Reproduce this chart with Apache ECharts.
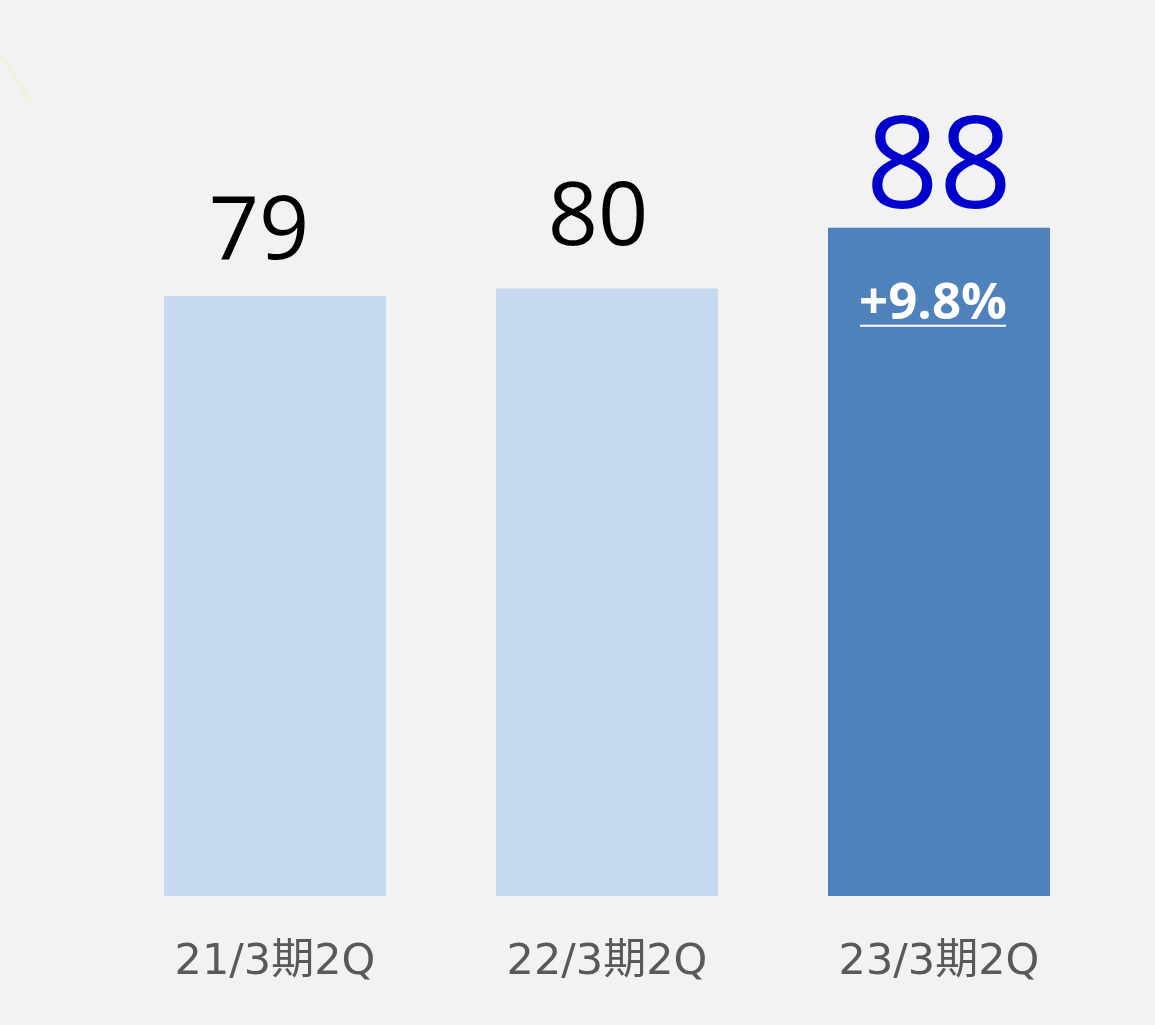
<!DOCTYPE html>
<html lang="ja">
<head>
    <meta charset="UTF-8">
    <title>21/3期2Q - 23/3期2Q</title>
    <script src="https://cdn.jsdelivr.net/npm/echarts@6/dist/echarts.min.js"></script>
    <style>
        * { margin: 0; padding: 0; }
        body { background: #f2f2f2; }
        #main { width: 1155px; height: 1025px; }
    </style>
</head>
<body>
    <div id="main"></div>
<script>
    // データ
    var periods = ['21/3期2Q', '22/3期2Q', '23/3期2Q'];
    var values = [79, 80, 88];
    var growth = ['', '', '+9.8%'];   // 前年同期比

    var barColors = ['#c6d9f0', '#c6d9f0', '#4f81bd'];
    var labelColors = ['#000000', '#000000', '#0000cc'];
    var labelSizes = [88, 88, 128];
    var labelOffsets = [[-16, -18], [-9, -24], [0, 8]];

    var myChart = echarts.init(document.getElementById('main'));

    var barData = values.map(function (v, i) {
        return {
            value: v,
            itemStyle: { color: barColors[i] },
            label: {
                color: labelColors[i],
                fontSize: labelSizes[i],
                lineHeight: labelSizes[i],
                offset: labelOffsets[i]
            }
        };
    });

    // 伸び率ラベル用（透明の重ね棒）
    var growthData = values.map(function (v, i) {
        return growth[i] ? v : null;
    });

    var option = {
        backgroundColor: '#f2f2f2',
        animation: false,
        grid: { left: 109, right: 50, top: 136.5, bottom: 129 },
        xAxis: {
            type: 'category',
            data: periods,
            axisLine: { show: false },
            axisTick: { show: false },
            axisLabel: {
                color: '#595959',
                fontSize: 43,
                fontFamily: '"DejaVu Sans", "Noto Sans CJK JP", sans-serif',
                margin: 45
            }
        },
        yAxis: {
            type: 'value',
            min: 0,
            max: 100,
            show: false,
            splitLine: { show: false }
        },
        series: [
            {
                type: 'bar',
                data: barData,
                barWidth: 222,
                barGap: '-100%',
                label: {
                    show: true,
                    position: 'top',
                    distance: 0,
                    fontFamily: '"Open Sans", sans-serif'
                }
            },
            {
                type: 'bar',
                data: growthData,
                barWidth: 222,
                barGap: '-100%',
                silent: true,
                itemStyle: { color: 'transparent' },
                label: {
                    show: true,
                    position: 'insideTop',
                    distance: 0,
                    offset: [-6, 57],
                    formatter: function (p) {
                        return '{t|' + growth[p.dataIndex] + '}\n{u|}';
                    },
                    rich: {
                        t: {
                            color: '#ffffff',
                            fontSize: 51,
                            fontWeight: 'bold',
                            fontFamily: '"Open Sans", sans-serif',
                            lineHeight: 40,
                            align: 'center'
                        },
                        u: {
                            width: 146,
                            height: 2,
                            backgroundColor: '#ffffff',
                            align: 'center'
                        }
                    }
                }
            }
        ],
        graphic: [
            {
                type: 'line',
                shape: { x1: 1, y1: 54, x2: 29, y2: 100 },
                style: { stroke: '#f3f3c4', lineWidth: 2 }
            }
        ]
    };

    myChart.setOption(option);
</script>
</body>
</html>
